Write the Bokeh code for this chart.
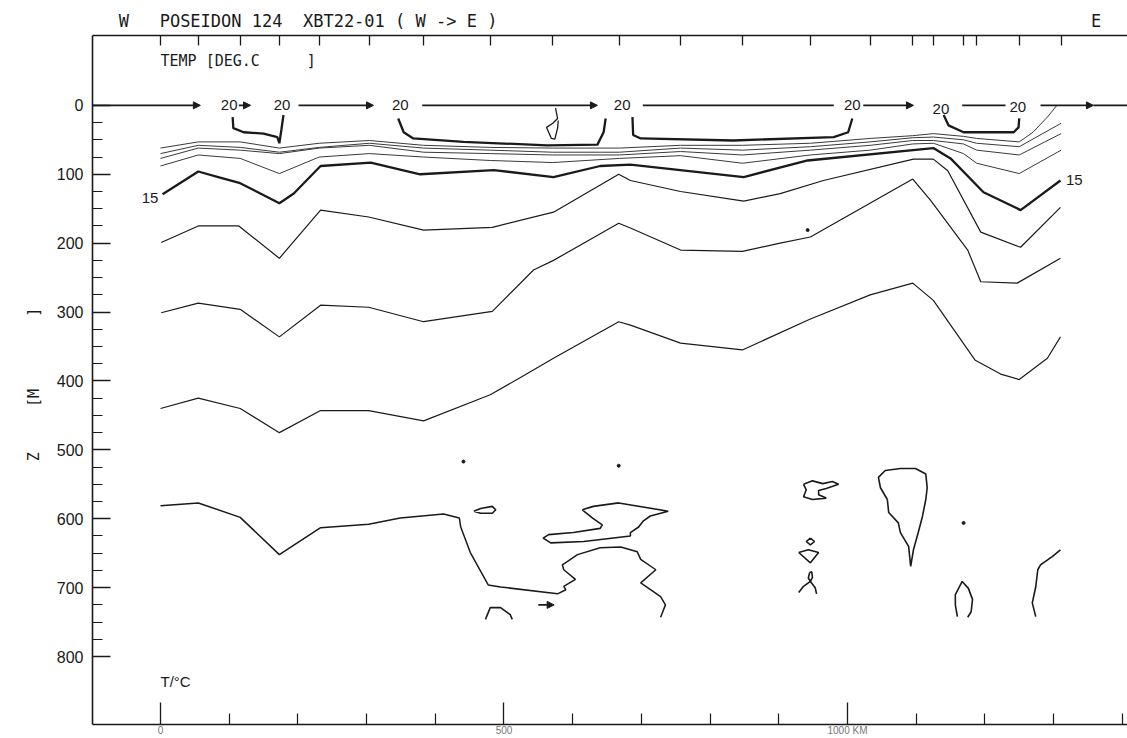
from bokeh.plotting import figure
from bokeh.models import (Range1d, LinearAxis, FixedTicker, Arrow,
                          NormalHead, ColumnDataSource)
from bokeh.core.properties import value
from bokeh.embed import file_html
from bokeh.resources import INLINE

# ---------------------------------------------------------------------------
# XBT section POSEIDON 124, XBT22-01, west -> east
# distances in km from the first station, depths in m
# ---------------------------------------------------------------------------
station_km = [0, 55, 116, 173, 231, 304, 383, 480, 571, 668, 757, 847, 946,
              1033, 1095, 1125, 1169, 1188, 1250, 1311]

# thin shallow isotherms 19..16 degC, depth at each station
t19_km = station_km[:19] + [1270, 1291, 1304]
t19_z = [62, 53, 53, 62, 55, 51, 58, 61, 62, 62, 58, 58, 55, 48, 44, 41, 45,
         48, 53, 39, 17, 1]
t18_z = [70, 58, 61, 68, 61, 55, 62, 65, 68, 68, 62, 65, 60, 53, 47, 46, 50,
         55, 60, 26]
t17_z = [77, 62, 65, 70, 62, 58, 68, 70, 72, 72, 67, 72, 65, 58, 51, 51, 56,
         65, 72, 41]
t16_z = [88, 72, 77, 99, 75, 70, 75, 80, 83, 77, 73, 84, 72, 65, 56, 55, 70,
         84, 99, 65]

# 15 degC (bold)
t15_km = [3, 55, 84, 116, 173, 194, 233, 306, 378, 485, 572, 640, 684, 849,
          942, 1125, 1150, 1198, 1252, 1310]
t15_z = [129, 96, 104, 113, 142, 128, 88, 83, 100, 94, 104, 88, 86, 104, 80,
         62, 77, 126, 152, 109]

# 14 degC
t14_km = [1, 55, 114, 173, 233, 303, 383, 483, 572, 667, 684, 757, 849, 902,
          965, 1096, 1125, 1146, 1194, 1252, 1310]
t14_z = [199, 175, 175, 222, 152, 162, 181, 177, 155, 100, 109, 125, 139, 128,
         109, 78, 78, 95, 184, 206, 148]

# 13 degC
t13_km = [1, 55, 116, 173, 233, 303, 383, 483, 543, 572, 667, 684, 757, 847,
          902, 946, 1095, 1121, 1175, 1194, 1247, 1310]
t13_z = [301, 287, 296, 336, 290, 293, 314, 299, 239, 225, 171, 178, 210, 212,
         200, 191, 107, 138, 210, 256, 258, 222]

# 12 degC
t12_km = [0, 55, 116, 173, 233, 303, 383, 480, 524, 572, 667, 684, 757, 847,
          946, 1033, 1095, 1125, 1186, 1223, 1250, 1291, 1310]
t12_z = [440, 425, 440, 475, 443, 443, 458, 420, 395, 367, 314, 319, 345, 355,
         310, 275, 258, 283, 370, 390, 398, 367, 336]

# 11 degC, western branch running into the deep layer
t11_km = [0, 55, 116, 173, 233, 303, 349, 412, 435, 437, 451, 477, 495, 578,
          590, 587, 604, 587, 585, 607, 640, 670, 694, 699, 721, 699, 728,
          735, 728]
t11_z = [581, 577, 598, 652, 613, 608, 599, 593, 599, 612, 649, 696, 699, 709,
         703, 698, 688, 674, 667, 652, 642, 641, 648, 659, 674, 693, 713, 725,
         743]

# small deep features of the 11 degC surface
blob1_km = [456, 466, 483, 488, 483, 466, 456]
blob1_z = [589, 585, 582, 587, 592, 592, 589]
loop_km = [614, 630, 667, 739, 713, 703, 696, 684, 684, 616, 568, 557, 565,
           601, 640, 643, 629, 614]
loop_z = [587, 582, 577, 589, 596, 603, 612, 620, 625, 633, 635, 628, 623,
          620, 614, 609, 599, 587]
arch_km = [473, 480, 495, 509, 512]
arch_z = [746, 729, 729, 739, 746]
sigma_km = [936, 949, 964, 978, 987, 969, 958, 958, 969, 949, 936, 940, 936]
sigma_z = [550, 545, 549, 546, 550, 556, 559, 565, 570, 572, 568, 558, 550]
diamond_km = [946, 952, 946, 940, 946]
diamond_z = [628, 633, 638, 633, 628]
kite_km = [929, 943, 958, 946, 929]
kite_z = [649, 645, 649, 664, 649]
ring_km = [945, 943, 946, 949, 948, 945]
ring_z = [678, 686, 691, 685, 677, 678]
legs_km = [929, 936, 946, 953, 955]
legs_z = [707, 698, 691, 700, 709]
tongue_km = [1058, 1048, 1045, 1055, 1077, 1099, 1114, 1116, 1114, 1109,
             1103, 1096, 1092, 1089, 1077, 1074, 1060, 1058]
tongue_z = [572, 555, 540, 530, 527, 527, 535, 555, 572, 597, 620, 645, 669,
            640, 620, 606, 591, 572]
oval_km = [1160, 1157, 1157, 1167, 1176, 1182, 1180, 1175]
oval_z = [742, 725, 710, 691, 701, 717, 735, 743]
east_km = [1310, 1298, 1281, 1277, 1274, 1269, 1274]
east_z = [645, 655, 667, 674, 699, 722, 742]
dot_km = [441, 667, 942, 1169]
dot_z = [517, 523, 181, 606]

# 20 degC: closures below the warm surface layer (bold)
u1_km = [105, 106, 121, 150, 170, 173, 176, 179]
u1_z = [17, 33, 39, 41, 46, 55, 35, 14]
u2_km = [346, 354, 368, 441, 563, 636, 645, 648]
u2_z = [19, 39, 48, 53, 58, 57, 39, 19]
kink_km = [575, 578, 571, 562, 569, 574, 578, 579]
kink_z = [4, 19, 26, 32, 48, 49, 33, 22]
u3_km = [687, 688, 699, 834, 980, 1001, 1007]
u3_z = [17, 43, 48, 51, 46, 39, 19]
u4_km = [1140, 1147, 1169, 1242, 1249, 1250]
u4_z = [14, 29, 39, 39, 32, 19]

# 20 degC traced along the sea surface
surf_arrow_x0 = [-110, 114, 201, 381, 1023, 1281]
surf_arrow_x1 = [58, 131, 310, 636, 1096, 1358]
surf_plain_x0 = [702, 1167, 1358]
surf_plain_x1 = [980, 1230, 1420]
lab20_km = [100, 177, 349, 672, 1007, 1136, 1248]
lab20_z = [0, 0, 0, 0, 0, 6, 2]

# deep arrow mark
deep_arrow_km = [550, 573]
deep_arrow_z = 725

depth_ticks = [0, 100, 200, 300, 400, 500, 600, 700, 800]
depth_minor = [d for d in range(25, 800, 25) if d % 100]
dist_ticks = [0, 500, 1000]
dist_minor = [d for d in range(100, 1500, 100) if d % 500]
dist_labels = {0: "0", 500: "500", 1000: "1000 KM"}

NB = "\u00a0"
header = ("W" + NB * 3 + "POSEIDON" + NB + "124" + NB * 2 + "XBT22-01" + NB
          + "(" + NB + "W" + NB + "->" + NB + "E" + NB + ")" + NB * 58 + "E")
depth_title = "Z" + NB * 5 + "[M" + NB * 8 + "]" + NB

INK = "#1a1a1a"
THIN = "#3a3a3a"
MONO = "DejaVu Sans Mono"
SANS = "Liberation Sans"

p = figure(width=1127, height=738,
           x_range=Range1d(-99, 1407.6), y_range=Range1d(898.6, -101.4),
           x_axis_type=None, y_axis_type=None,
           output_backend="svg", toolbar_location=None,
           min_border_left=92, min_border_right=0,
           min_border_top=35, min_border_bottom=13)
p.outline_line_color = None
p.background_fill_color = "white"
p.border_fill_color = "white"

# depth axis
yax = LinearAxis(ticker=FixedTicker(ticks=depth_ticks, minor_ticks=depth_minor))
yax.axis_line_color = INK
yax.axis_line_width = 1.6
yax.major_tick_in = 18
yax.major_tick_out = 0
yax.minor_tick_in = 10
yax.minor_tick_out = 0
yax.major_tick_line_color = INK
yax.major_tick_line_width = 1.4
yax.minor_tick_line_color = INK
yax.minor_tick_line_width = 1.2
yax.major_label_standoff = 9
yax.major_label_text_font = SANS
yax.major_label_text_font_size = "16px"
yax.major_label_text_color = INK
yax.axis_label = depth_title
yax.axis_label_text_font = MONO
yax.axis_label_text_font_size = "15px"
yax.axis_label_text_font_style = "normal"
yax.axis_label_text_color = INK
yax.axis_label_standoff = 11
p.add_layout(yax, "left")

# distance axis
xax = LinearAxis(ticker=FixedTicker(ticks=dist_ticks, minor_ticks=dist_minor),
                 major_label_overrides=dist_labels)
xax.axis_line_color = INK
xax.axis_line_width = 1.4
xax.major_tick_in = 22
xax.major_tick_out = 0
xax.minor_tick_in = 11
xax.minor_tick_out = 0
xax.major_tick_line_color = INK
xax.minor_tick_line_color = INK
xax.major_tick_line_width = 1.3
xax.minor_tick_line_width = 1.2
xax.major_label_standoff = 0
xax.major_label_text_font = SANS
xax.major_label_text_font_size = "10px"
xax.major_label_text_color = "#777777"
p.add_layout(xax, "below")

# station marks along the top edge, cruise header above them
tax = LinearAxis(ticker=FixedTicker(ticks=station_km, minor_ticks=[]))
tax.axis_line_color = INK
tax.axis_line_width = 1.4
tax.major_tick_in = 10
tax.major_tick_out = 0
tax.minor_tick_in = 0
tax.minor_tick_out = 0
tax.major_tick_line_color = INK
tax.major_tick_line_width = 1.3
tax.major_label_text_font_size = "1px"
tax.major_label_text_color = None
tax.major_label_standoff = 0
tax.axis_label = header
tax.axis_label_text_font = MONO
tax.axis_label_text_font_size = "17px"
tax.axis_label_text_font_style = "normal"
tax.axis_label_text_color = INK
tax.axis_label_standoff = 5
p.add_layout(tax, "above")

# shallow thin isotherms
p.multi_line(xs=[t19_km, station_km, station_km, station_km],
             ys=[t19_z, t18_z, t17_z, t16_z],
             line_color=THIN, line_width=1.0)

# 15 degC
p.line(t15_km, t15_z, line_color=INK, line_width=2.3)

# deeper isotherms
p.multi_line(xs=[t14_km, t13_km, t12_km],
             ys=[t14_z, t13_z, t12_z],
             line_color=INK, line_width=1.2)
p.line(t11_km, t11_z, line_color=INK, line_width=1.5)
p.multi_line(xs=[blob1_km, loop_km, arch_km, sigma_km, diamond_km, kite_km,
                 ring_km, legs_km, tongue_km, oval_km, east_km],
             ys=[blob1_z, loop_z, arch_z, sigma_z, diamond_z, kite_z,
                 ring_z, legs_z, tongue_z, oval_z, east_z],
             line_color=INK, line_width=1.6)
p.scatter(dot_km, dot_z, size=3, color=INK)

# 20 degC closures
p.multi_line(xs=[u1_km, u2_km, u3_km, u4_km], ys=[u1_z, u2_z, u3_z, u4_z],
             line_color=INK, line_width=2.3)
p.line(kink_km, kink_z, line_color=INK, line_width=1.3)

# surface trace of 20 degC with direction arrows
arr_src = ColumnDataSource(dict(x0=surf_arrow_x0 + [deep_arrow_km[0]],
                                x1=surf_arrow_x1 + [deep_arrow_km[1]],
                                y0=[0] * len(surf_arrow_x0) + [deep_arrow_z],
                                y1=[0] * len(surf_arrow_x1) + [deep_arrow_z]))
p.add_layout(Arrow(end=NormalHead(size=7, fill_color=INK, line_color=INK),
                   x_start="x0", y_start="y0", x_end="x1", y_end="y1",
                   source=arr_src, line_color=INK, line_width=1.6))
p.segment(x0=surf_plain_x0, y0=[0] * len(surf_plain_x0),
          x1=surf_plain_x1, y1=[0] * len(surf_plain_x1),
          line_color=INK, line_width=1.6)

# contour labels
p.text(x=lab20_km, y=lab20_z, text=["20"] * len(lab20_km),
       text_font=value(SANS), text_font_size="15px", text_color=INK,
       text_align="center", text_baseline="middle")
p.text(x=[t15_km[0] - 6], y=[t15_z[0] + 5], text=["15"],
       text_font=value(SANS), text_font_size="15px", text_color=INK,
       text_align="right", text_baseline="middle")
p.text(x=[t15_km[-1] + 8], y=[t15_z[-1]], text=["15"],
       text_font=value(SANS), text_font_size="15px", text_color=INK,
       text_align="left", text_baseline="middle")

# parameter captions inside the frame
p.text(x=[0], y=[-65], text=["TEMP [DEG.C"], text_font=value(MONO),
       text_font_size="15px", text_color=INK, text_baseline="middle")
p.text(x=[213], y=[-65], text=["]"], text_font=value(MONO),
       text_font_size="15px", text_color=INK, text_baseline="middle")
p.text(x=[0], y=[836], text=["T/°C"], text_font=value(SANS),
       text_font_size="15px", text_color=INK, text_baseline="middle")

open("out.html", "w").write(file_html(p, INLINE))
